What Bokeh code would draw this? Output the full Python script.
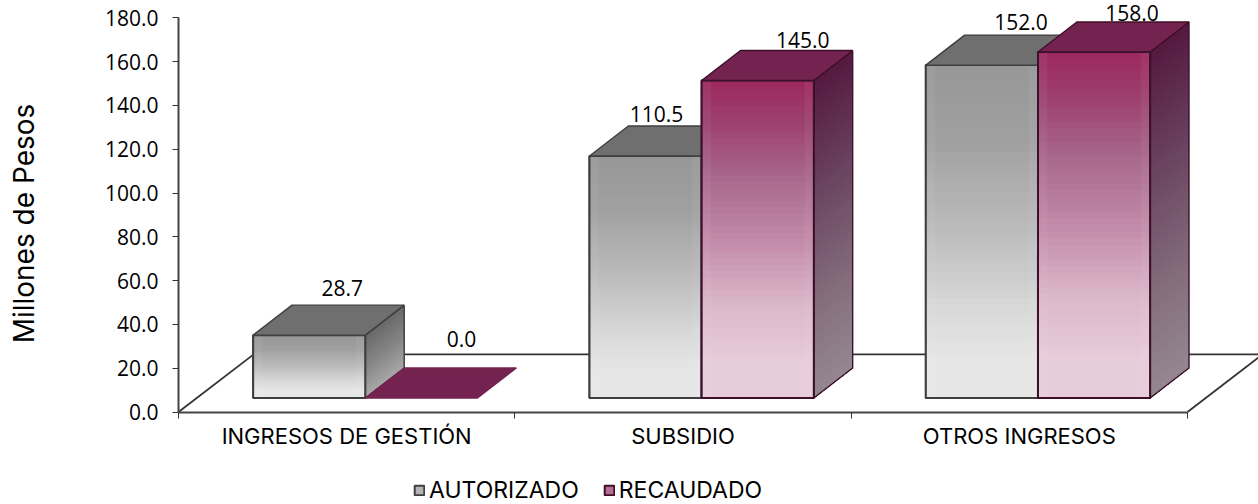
import math
from bokeh.plotting import figure
from bokeh.models import Range1d, FixedTicker, Legend, LegendItem, ColumnDataSource
from bokeh.core.properties import value
from bokeh.embed import file_html
from bokeh.resources import INLINE

categories = ["INGRESOS DE GESTIÓN", "SUBSIDIO", "OTROS INGRESOS"]
autorizado = [28.7, 110.5, 152.0]
recaudado = [0.0, 145.0, 158.0]
series_names = ["AUTORIZADO", "RECAUDADO"]
y_ticks = [0, 20, 40, 60, 80, 100, 120, 140, 160, 180]
y_title = "Millones de Pesos"

# label nudges in screen pixels (the original labels were placed by hand)
auth_label_dx = [33, 11, 39]
auth_label_dy = [47, 42, 43]
rec_label_dx = [40, 45, 38]
rec_label_dy = [59, 40, 39]

FONT = "Inter"
W, H = 1258, 504
LEFT, ZERO_PX = 178, 411.5
PX_X, PX_Y = 336.33, 2.19          # pixels per data unit
BASE = 6.4                         # height of the bar bottoms over the zero line
X0 = 0.222                         # first bar's left edge inside each category
BW = 0.3335                        # bar width
DX, DY = 0.1155, 13.7              # depth of a bar
FDX, FDY = 0.2235, 26.3            # depth of the floor
SHEEN = 0.028                      # width of the pale bands at a front face's edges
STEPS = 50
TITLE_X_PX, TITLE_Y_PX = 23, 223   # centre of the rotated axis title

GREY_FRONT = [(0, "#979797"), (.22, "#a0a0a0"), (.5, "#bcbcbc"), (.75, "#dadada"), (.9, "#e6e6e6"), (1, "#e6e6e6")]
MAROON_FRONT = [(0, "#9c2a60"), (.12, "#9c3f6e"), (.3, "#a8678c"), (.5, "#c28aa8"), (.72, "#dcb8cb"), (.9, "#e7ccda"), (1, "#e7ccda")]
GREY_SIDE = [(0, "#6a6a6a"), (.5, "#858585"), (1, "#a8a8a8")]
MAROON_SIDE = [(0, "#561a40"), (.35, "#6a4460"), (.7, "#836c7c"), (1, "#948691")]


def mix(stops, t):
    for (a, ca), (b, cb) in zip(stops, stops[1:]):
        if t <= b:
            f = (t - a) / (b - a) if b > a else 0
            rgb = [round(int(ca[i:i + 2], 16) * (1 - f) + int(cb[i:i + 2], 16) * f) for i in (1, 3, 5)]
            return "#%02x%02x%02x" % tuple(rgb)
    return stops[-1][1]


p = figure(width=W, height=H, output_backend="svg", toolbar_location=None,
           x_range=Range1d(-LEFT / PX_X, (W - LEFT) / PX_X),
           y_range=Range1d(-(H - ZERO_PX) / PX_Y, ZERO_PX / PX_Y),
           min_border_left=0, min_border_bottom=0, min_border_top=0, min_border_right=0,
           outline_line_color=None, margin=(0, 0, 0, 0))
p.grid.visible = False

# axes
ya = p.yaxis[0]
ya.fixed_location = 0
ya.bounds = (0, 180)
ya.ticker = FixedTicker(ticks=y_ticks)
ya.major_label_overrides = {t: f"{t:.1f}" for t in y_ticks}
ya.major_label_text_font = "Open Sans"
ya.major_label_text_font_size = "21px"
ya.major_label_text_color = "#000000"
ya.major_label_standoff = 14
ya.major_tick_in = 0
ya.major_tick_out = 6
ya.minor_tick_line_color = None
ya.axis_line_color = "#444444"
ya.axis_line_width = 2
ya.major_tick_line_color = "#333333"

p.text(x=[(TITLE_X_PX - LEFT) / PX_X], y=[(ZERO_PX - TITLE_Y_PX) / PX_Y], text=[y_title],
       angle=math.pi / 2, text_font=value(FONT), text_font_size="28px", text_color="#000000",
       text_align="center", text_baseline="middle")

xa = p.xaxis[0]
xa.fixed_location = 0
xa.bounds = (0, 3)
centers = [i + 0.5 for i in range(len(categories))]
xa.ticker = FixedTicker(ticks=centers, minor_ticks=list(range(len(categories) + 1)))
xa.major_label_overrides = dict(zip(centers, categories))
xa.major_label_text_font = FONT
xa.major_label_text_font_size = "22px"
xa.major_label_text_color = "#000000"
xa.major_label_standoff = 5
xa.major_tick_line_color = None
xa.minor_tick_line_color = "#333333"
xa.minor_tick_in = 0
xa.minor_tick_out = 6
xa.axis_line_color = "#444444"
xa.axis_line_width = 2

# floor outline
n = len(categories)
p.multi_line(xs=[[0, FDX], [FDX, n + FDX], [n, n + FDX]],
             ys=[[0, FDY], [FDY, FDY], [0, FDY]], line_color="#333333", line_width=1.8)


def draw_series(vals, offset, front, side, top_color, edge, swatch):
    lefts = [i + X0 + offset for i in range(n)]
    rights = [x + BW for x in lefts]
    tops = [v + BASE for v in vals]
    visible = [i for i in range(n) if vals[i] > 0]
    base = p.quad(left=[lefts[i] for i in visible], right=[rights[i] for i in visible],
                  bottom=[BASE for i in visible], top=[tops[i] for i in visible],
                  fill_color=swatch, line_color=edge, line_width=2)
    for i in visible:
        # front face: painted from the top down so that no seams show
        L, R, T = [], [], []
        cols = []
        for k in range(STEPS):
            t = k / (STEPS - 1)
            L.append(lefts[i]); R.append(rights[i])
            T.append(tops[i] - (tops[i] - BASE) * k / STEPS)
            cols.append(mix(front, t))
        p.quad(left=L, right=R, bottom=[BASE] * STEPS, top=T, fill_color=cols, line_color=None)
        # pale bands along the edges of the front face
        p.quad(left=[lefts[i], rights[i] - SHEEN], right=[lefts[i] + SHEEN, rights[i]],
               bottom=[BASE, BASE], top=[tops[i], tops[i]],
               fill_color="#ffffff", fill_alpha=0.05, line_color=None)
        # side face
        xs, ys, cols = [], [], []
        xr = rights[i]
        for k in range(STEPS):
            t = k / (STEPS - 1)
            yt = tops[i] - (tops[i] - BASE) * k / STEPS
            xs.append([xr, xr + DX, xr + DX, xr])
            ys.append([yt, yt + DY, BASE + DY, BASE])
            cols.append(mix(side, t))
        p.patches(xs=xs, ys=ys, fill_color=cols, line_color=None)
        # outlines of front and side
        p.quad(left=[lefts[i]], right=[rights[i]], bottom=[BASE], top=[tops[i]],
               fill_color=None, line_color=edge, line_width=2)
        p.patch(x=[xr, xr + DX, xr + DX, xr], y=[tops[i], tops[i] + DY, BASE + DY, BASE],
                fill_color=None, line_color=edge, line_width=1.4)
    # top faces
    p.patches(xs=[[lefts[i], lefts[i] + DX, rights[i] + DX, rights[i]] for i in range(n)],
              ys=[[tops[i], tops[i] + DY, tops[i] + DY, tops[i]] for i in range(n)],
              fill_color=top_color,
              line_color=[edge if vals[i] > 0 else top_color for i in range(n)], line_width=1.4)
    return base


grey_r = draw_series(autorizado, 0, GREY_FRONT, GREY_SIDE, "#6f6f6f", "#3f3f3f", "#b4b4b4")
maroon_r = draw_series(recaudado, BW, MAROON_FRONT, MAROON_SIDE, "#74224f", "#3c1029", "#b56f95")

# value labels
lab = ColumnDataSource(dict(
    x=[i + X0 for i in range(n)] + [i + X0 + BW for i in range(n)],
    y=[v + BASE for v in autorizado] + [v + BASE for v in recaudado],
    text=[f"{v:.1f}" for v in autorizado] + [f"{v:.1f}" for v in recaudado],
    dx=[BW * PX_X / 2 + d for d in auth_label_dx] + [BW * PX_X / 2 + d for d in rec_label_dx],
    dy=[-d for d in auth_label_dy] + [-d for d in rec_label_dy],
))
p.text(x="x", y="y", text="text", x_offset="dx", y_offset="dy", source=lab,
       text_font=value("Open Sans"), text_font_size="21px", text_color="#000000",
       text_align="center", text_baseline="middle")

legend = Legend(items=[LegendItem(label=series_names[0], renderers=[grey_r]),
                       LegendItem(label=series_names[1], renderers=[maroon_r])],
                orientation="horizontal", location=(413, 0),
                glyph_width=12, glyph_height=12, label_standoff=4, spacing=24,
                padding=0, margin=0, border_line_color=None, background_fill_color=None,
                label_text_font=FONT, label_text_font_size="23px", label_text_color="#000000")
p.add_layout(legend, "center")

open("out.html", "w").write(file_html(p, INLINE))
